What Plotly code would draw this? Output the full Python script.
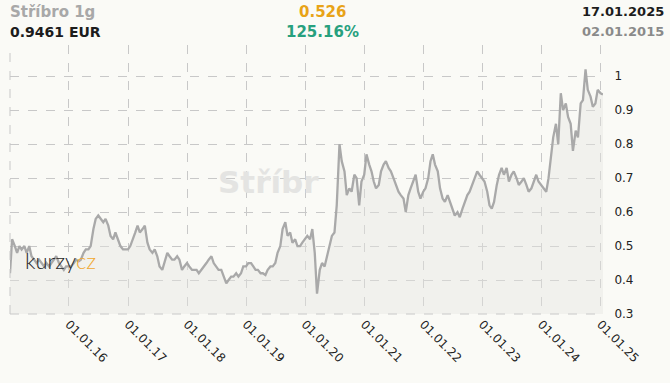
import plotly.graph_objects as go

# semi-monthly samples (1st and 15th of each month)
v2015 = [0.42, 0.52, 0.50, 0.48, 0.50, 0.49, 0.50, 0.48, 0.50, 0.47, 0.46, 0.45,
         0.46, 0.45, 0.44, 0.45, 0.44, 0.45, 0.46, 0.47, 0.45, 0.44, 0.43, 0.44]
v2016 = [0.44, 0.44, 0.45, 0.46, 0.455, 0.46, 0.48, 0.49, 0.49, 0.50, 0.55, 0.58,
         0.59, 0.58, 0.57, 0.58, 0.56, 0.53, 0.52, 0.54, 0.52, 0.50, 0.49, 0.49]
v2017 = [0.49, 0.50, 0.52, 0.54, 0.56, 0.54, 0.55, 0.56, 0.51, 0.49, 0.48, 0.49,
         0.47, 0.44, 0.43, 0.45, 0.48, 0.47, 0.46, 0.46, 0.47, 0.46, 0.43, 0.44]
v2018 = [0.45, 0.44, 0.43, 0.43, 0.43, 0.42, 0.43, 0.44, 0.45, 0.46, 0.47, 0.45,
         0.44, 0.43, 0.43, 0.41, 0.39, 0.40, 0.41, 0.41, 0.42, 0.41, 0.42, 0.44]
v2019 = [0.44, 0.45, 0.45, 0.44, 0.43, 0.43, 0.42, 0.42, 0.415, 0.43, 0.44, 0.44,
         0.45, 0.48, 0.50, 0.55, 0.57, 0.53, 0.54, 0.51, 0.52, 0.50, 0.50, 0.51]
v2020 = [0.52, 0.53, 0.52, 0.55, 0.48, 0.36, 0.43, 0.45, 0.44, 0.47, 0.50, 0.53,
         0.54, 0.62, 0.80, 0.75, 0.72, 0.65, 0.67, 0.66, 0.71, 0.70, 0.62, 0.69]
v2021 = [0.71, 0.77, 0.74, 0.72, 0.69, 0.67, 0.68, 0.72, 0.74, 0.75, 0.73, 0.72,
         0.70, 0.68, 0.66, 0.65, 0.64, 0.60, 0.65, 0.67, 0.69, 0.71, 0.66, 0.64]
v2022 = [0.66, 0.67, 0.70, 0.75, 0.77, 0.74, 0.72, 0.67, 0.64, 0.63, 0.65, 0.63,
         0.61, 0.59, 0.60, 0.585, 0.61, 0.63, 0.65, 0.66, 0.68, 0.70, 0.72, 0.71]
v2023 = [0.70, 0.69, 0.66, 0.62, 0.61, 0.63, 0.68, 0.71, 0.73, 0.71, 0.73, 0.69,
         0.71, 0.72, 0.70, 0.68, 0.69, 0.70, 0.68, 0.66, 0.67, 0.69, 0.71, 0.69]
v2024 = [0.68, 0.67, 0.66, 0.70, 0.76, 0.82, 0.86, 0.80, 0.95, 0.90, 0.92, 0.88,
         0.86, 0.78, 0.84, 0.82, 0.92, 0.93, 1.02, 0.96, 0.94, 0.91, 0.92, 0.96]
v2025 = [0.95, 0.9461]

years = [2015, 2016, 2017, 2018, 2019, 2020, 2021, 2022, 2023, 2024]
year_values = [v2015, v2016, v2017, v2018, v2019, v2020, v2021, v2022, v2023, v2024]
dates_2025 = ["2025-01-02", "2025-01-17"]

tick_dates = ["2016-01-01", "2017-01-01", "2018-01-01", "2019-01-01", "2020-01-01",
              "2021-01-01", "2022-01-01", "2023-01-01", "2024-01-01", "2025-01-01"]
tick_labels = ["01.01.16", "01.01.17", "01.01.18", "01.01.19", "01.01.20",
               "01.01.21", "01.01.22", "01.01.23", "01.01.24", "01.01.25"]
y_ticks = [0.3, 0.4, 0.5, 0.6, 0.7, 0.8, 0.9, 1.0]
y_labels = ["0.3", "0.4", "0.5", "0.6", "0.7", "0.8", "0.9", "1"]

x, y = [], []
for yr, vals in zip(years, year_values):
    i = 0
    for m in range(1, 13):
        for d in (1, 15):
            day = 2 if (yr == 2015 and m == 1 and d == 1) else d
            x.append(f"{yr}-{m:02d}-{day:02d}")
            y.append(vals[i])
            i += 1
x += dates_2025
y += v2025

BG = "#fafaf6"
fig = go.Figure()
fig.add_trace(go.Scatter(
    x=x, y=y, mode="lines",
    line=dict(color="#a9a9a9", width=2.3),
    fill="tozeroy", fillcolor="rgba(228,228,225,0.42)",
    hoverinfo="skip",
))

fig.update_layout(
    width=670, height=383,
    margin=dict(l=10, r=67, t=45, b=69),
    paper_bgcolor=BG, plot_bgcolor=BG,
    showlegend=False,
    font=dict(family="DejaVu Sans, Verdana, sans-serif", size=12, color="#222"),
    xaxis=dict(
        range=["2015-01-02", "2025-01-17"],
        tickvals=tick_dates, ticktext=tick_labels, tickangle=45,
        showgrid=True, gridcolor="#c8c8c8", griddash="dash", gridwidth=1,
        zeroline=False, showline=False, ticks="",
        tickfont=dict(size=12, color="#222"),
    ),
    yaxis=dict(
        range=[0.3, 1.092], side="right",
        tickvals=y_ticks, ticktext=y_labels,
        showgrid=True, gridcolor="#c8c8c8", griddash="dash", gridwidth=1,
        zeroline=False, showline=False, ticks="outside", ticklen=8, tickcolor=BG,
        tickfont=dict(size=12, color="#222"),
    ),
)

# dashed frame edges (left and bottom)
fig.add_shape(type="line", xref="paper", yref="paper", x0=0, x1=0, y0=0, y1=1,
              line=dict(color="#c8c8c8", width=1, dash="dash"))
fig.add_shape(type="line", xref="paper", yref="paper", x0=0, x1=1, y0=0, y1=0,
              line=dict(color="#c8c8c8", width=1, dash="dash"))

ann = [
    dict(text="<b>Stříbro 1g</b>", x=8, y=12, color="#a8a8a8", size=15, xanchor="left"),
    dict(text="<b>0.9461 EUR</b>", x=8, y=32, color="#1c1c1c", size=14, xanchor="left"),
    dict(text="<b>0.526</b>", x=322, y=12, color="#e8a317", size=15, xanchor="center"),
    dict(text="<b>125.16%</b>", x=322, y=32, color="#27a07e", size=15, xanchor="center"),
    dict(text="<b>17.01.2025</b>", x=666, y=12, color="#1c1c1c", size=13, xanchor="right"),
    dict(text="<b>02.01.2015</b>", x=666, y=32, color="#8a8a8a", size=13, xanchor="right"),
]
for a in ann:
    fig.add_annotation(text=a["text"], xref="paper", yref="paper",
                       x=(a["x"] - 10) / 593, y=1 - (a["y"] - 45) / 269,
                       xanchor=a["xanchor"], yanchor="middle", showarrow=False,
                       font=dict(size=a["size"], color=a["color"],
                                 family="DejaVu Sans, Verdana, sans-serif"))

fig.add_annotation(text="<b>Stříbr</b>", xref="paper", yref="paper",
                   x=(268 - 10) / 593, y=1 - (182 - 45) / 269, showarrow=False,
                   font=dict(size=31, color="#e4e4e2", family="DejaVu Sans, sans-serif"))
fig.add_annotation(text="kurzy<span style='color:#f0a830'>cz</span>", xref="paper", yref="paper",
                   x=(23 - 10) / 593, y=1 - (276 - 45) / 269, xanchor="left", showarrow=False,
                   font=dict(size=22, color="#2a2a2a", family="Lato, sans-serif", weight=300))

fig.write_html("out.html")
